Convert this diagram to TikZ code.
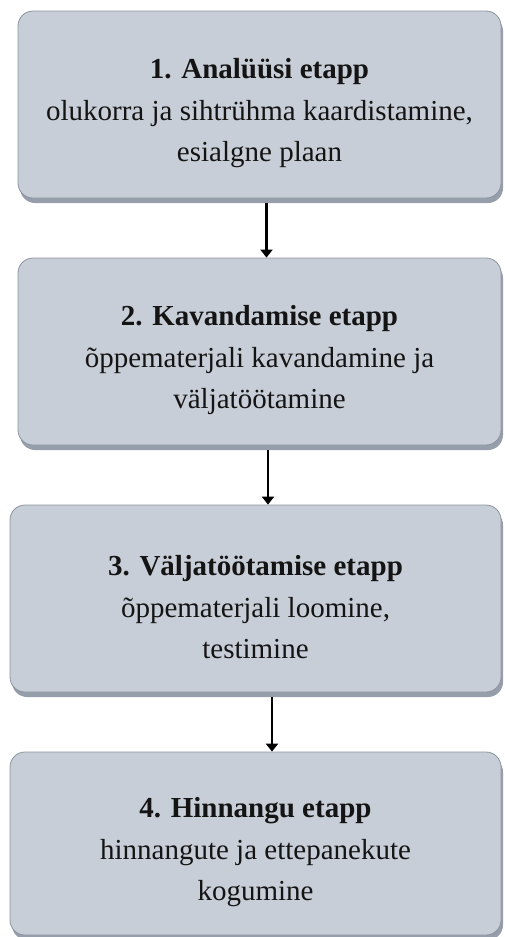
\documentclass[tikz,border=0pt]{standalone}
\usepackage{fontspec}
\setmainfont{Liberation Serif}
\usetikzlibrary{arrows.meta,shadows}
\definecolor{boxfill}{RGB}{200,206,215}
\definecolor{boxline}{RGB}{140,148,160}
\definecolor{shadowgray}{RGB}{150,158,172}
\definecolor{txt}{RGB}{20,20,20}
\newcommand{\lowerstrut}{\rule{0pt}{38pt}}
\tikzset{
  stage/.style={draw=boxline, line width=0.8pt, fill=boxfill, rounded corners=15pt,
    minimum height=187pt, align=center, text=txt, inner sep=0pt,
    font=\fontsize{29}{41.5}\selectfont,
    drop shadow={shadow xshift=2pt, shadow yshift=-5pt, fill=shadowgray, opacity=1}},
  arr/.style={line width=2.8pt, -{Triangle[width=12pt,length=8pt]}, shorten <=5pt}
}
\begin{document}
\begin{tikzpicture}[x=1pt,y=-1pt]
\useasboundingbox (0,0) rectangle (504,937);
\node[stage, minimum width=483pt] (b1) at (259.5,104.5)
  {\lowerstrut\textbf{1. Analüüsi etapp}\\olukorra ja sihtrühma kaardistamine,\\esialgne plaan};
\node[stage, minimum width=483pt] (b2) at (259.5,351.5)
  {\lowerstrut\textbf{2. Kavandamise etapp}\\õppematerjali kavandamine ja\\väljatöötamine};
\node[stage, minimum width=491pt] (b3) at (255.5,598.5)
  {\lowerstrut\textbf{3. Väljatöötamise etapp}\\õppematerjali loomine,\\testimine};
\node[stage, minimum width=491pt, minimum height=183pt] (b4) at (255.5,843.5)
  {\lowerstrut\textbf{4. Hinnangu etapp}\\hinnangute ja ettepanekute\\kogumine};
\draw[arr] ([xshift=7pt]b1.south) -- ([xshift=7pt]b2.north);
\draw[arr] ([xshift=8.5pt]b2.south) -- ([xshift=8.5pt]b2.south |- b3.north);
\draw[arr] ([xshift=16.5pt]b3.south) -- ([xshift=16.5pt]b4.north);
\end{tikzpicture}
\end{document}
